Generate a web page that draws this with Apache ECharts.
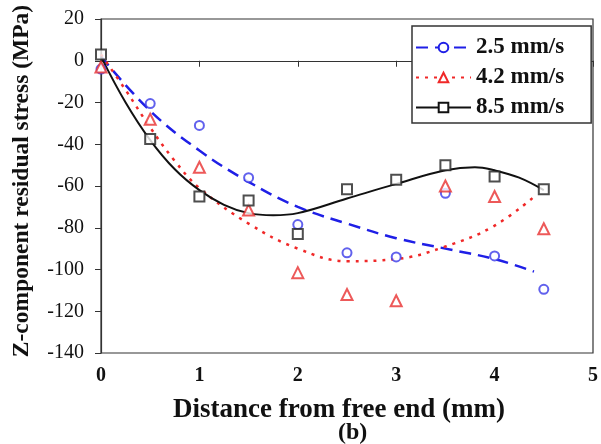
<!DOCTYPE html>
<html><head><meta charset="utf-8">
<script src="https://cdn.jsdelivr.net/npm/echarts@6/dist/echarts.min.js"></script>
<style>html,body{margin:0;padding:0;background:#fff}#c{width:601px;height:444px}</style>
</head><body><div id="c"></div>
<script>
// Measured points (distance mm, stress MPa)
const xPoints = [0, 0.5, 1, 1.5, 2, 2.5, 3, 3.5, 4, 4.5];
const meas25 = [-4, -20.5, -31, -56, -78.5, -92, -94, -63.5, -93.5, -109.5];
const meas42 = [-3, -28, -51, -71.5, -101.5, -112, -115, -60, -65, -80.5];
const meas85 = [3, -37.5, -65, -67, -83, -61.5, -57, -50, -55.5, -61.5];

// Fitted trend curves
const fitX25 = [0, 0.5, 1, 1.5, 2, 2.5, 3, 3.5, 4, 4.4];
const fitY25 = [2, -24, -43, -58, -70, -78, -85, -90, -95, -101];
const fitX42 = [0, 0.25, 0.5, 0.75, 1, 1.5, 2, 2.5, 3, 3.5, 4, 4.43];
const fitY42 = [3, -14, -32, -48, -61, -78, -90, -96, -95, -89, -79, -64];
const fitX85 = [0, 0.25, 0.5, 0.75, 1, 1.25, 1.5, 1.75, 2, 2.5, 3, 3.5, 3.8, 4, 4.25, 4.5];
const fitY85 = [2, -20, -38, -52, -62, -69, -73, -74, -73, -66, -59, -52.5, -51, -52.5, -56, -62];

const seriesNames = ['2.5 mm/s', '4.2 mm/s', '8.5 mm/s'];
const xTicks = [0, 1, 2, 3, 4, 5];
const yTicks = [-140, -120, -100, -80, -60, -40, -20, 0, 20];

const pair = (xs, ys) => xs.map((x, i) => [x, ys[i]]);
const FONT = '"Liberation Serif", "DejaVu Serif", serif';
const cBlue = '#1f1fe6', cRed = '#f02828', cBlack = '#111111';

const chart = echarts.init(document.getElementById('c'), null, {renderer: 'canvas'});
chart.setOption({
  animation: false,
  backgroundColor: '#fff',
  grid: {left: 101, right: 3, top: 19, bottom: 91, show: true, borderColor: '#333', borderWidth: 1.2, backgroundColor: 'transparent'},
  xAxis: {
    type: 'value', min: 0, max: 5, interval: 1,
    axisLine: {lineStyle: {color: '#333', width: 1.2}},
    axisTick: {show: true, inside: false, length: 6, lineStyle: {color: '#333'}},
    splitLine: {show: false},
    axisLabel: {color: '#111', fontFamily: FONT, fontSize: 20, fontWeight: 'bold', margin: 13,
      formatter: v => xTicks.includes(v) ? String(v) : ''},
    name: 'Distance from free end (mm)', nameLocation: 'middle', nameGap: 44,
    nameTextStyle: {color: '#111', fontFamily: FONT, fontSize: 27, fontWeight: 'bold', padding: [0, 16, 0, 0]}
  },
  yAxis: {
    type: 'value', min: -140, max: 20, interval: 20,
    axisLine: {lineStyle: {color: '#333', width: 1.2}},
    axisTick: {show: true, inside: false, length: 6, lineStyle: {color: '#333'}},
    splitLine: {show: false},
    axisLabel: {color: '#111', fontFamily: FONT, fontSize: 20, margin: 17,
      formatter: v => yTicks.includes(v) ? String(v) : ''},
    name: 'Z-component residual stress (MPa)', nameLocation: 'middle', nameGap: 67,
    nameTextStyle: {color: '#111', fontFamily: FONT, fontSize: 23.5, fontWeight: 'bold', padding: [0, 0, 0, 10]}
  },
  legend: {
    data: seriesNames, orient: 'vertical', left: 412, top: 26,
    backgroundColor: '#fff', borderColor: '#333', borderWidth: 1.5,
    padding: [10, 27, 4, 3], itemGap: 7, itemWidth: 55, itemHeight: 12,
    textStyle: {color: '#111', fontFamily: FONT, fontSize: 23, fontWeight: 'bold', lineHeight: 22}
  },
  series: [
    {name: seriesNames[0], type: 'line', data: pair(fitX25, fitY25), smooth: 0.4,
      symbol: 'emptyCircle', symbolSize: 9, showSymbol: false,
      itemStyle: {color: cBlue, borderColor: cBlue}, lineStyle: {color: cBlue, width: 2.5, type: [12, 7]}, z: 3},
    {name: seriesNames[1], type: 'line', data: pair(fitX42, fitY42), smooth: 0.4,
      symbol: 'emptyTriangle', symbolSize: 10, showSymbol: false,
      itemStyle: {color: cRed, borderColor: cRed}, lineStyle: {color: cRed, width: 2.5, type: [3, 6]}, z: 3},
    {name: seriesNames[2], type: 'line', data: pair(fitX85, fitY85), smooth: 0.4,
      symbol: 'emptyRect', symbolSize: 9, showSymbol: false,
      itemStyle: {color: cBlack, borderColor: cBlack}, lineStyle: {color: cBlack, width: 2}, z: 3},
    {name: seriesNames[0] + ' data', type: 'scatter', data: pair(xPoints, meas25), symbol: 'emptyCircle', symbolSize: 9,
      itemStyle: {color: '#3a3ae8', borderColor: '#3a3ae8', borderWidth: 1.3}, z: 4},
    {name: seriesNames[1] + ' data', type: 'scatter', data: pair(xPoints, meas42), symbol: 'emptyTriangle', symbolSize: 11,
      itemStyle: {color: '#e83030', borderColor: '#e83030', borderWidth: 1.3}, z: 4},
    {name: seriesNames[2] + ' data', type: 'scatter', data: pair(xPoints, meas85), symbol: 'emptyRect', symbolSize: 10,
      itemStyle: {color: '#222', borderColor: '#222', borderWidth: 1.3}, z: 4}
  ],
  graphic: [{type: 'text', left: 338, top: 421,
    style: {text: '(b)', font: 'bold 24px ' + FONT, fill: '#111'}}]
});
</script></body></html>
